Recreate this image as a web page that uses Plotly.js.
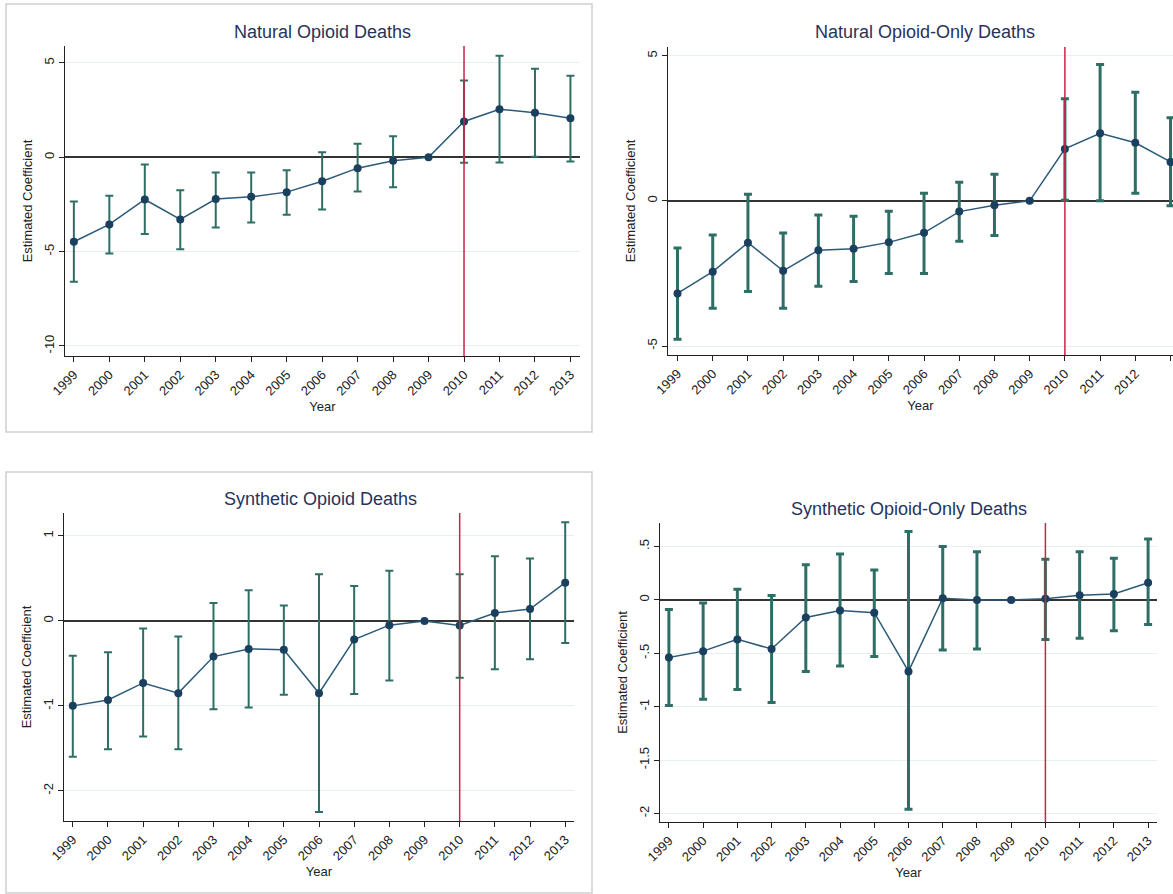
<!DOCTYPE html>
<html>
<head>
<meta charset="utf-8">
<script src="https://cdn.plot.ly/plotly-3.0.1.min.js"></script>
<style>body{margin:0;background:#fff}#chart{width:1173px;height:894px}</style>
</head>
<body>
<div id="chart"></div>
<script>
const years = [1999,2000,2001,2002,2003,2004,2005,2006,2007,2008,2009,2010,2011,2012,2013];

// Natural Opioid Deaths
const natCoef = [-4.48,-3.56,-2.24,-3.3,-2.22,-2.1,-1.85,-1.27,-0.58,-0.19,0,1.89,2.54,2.35,2.06];
const natHi   = [-2.35,-2.04,-0.39,-1.75,-0.81,-0.81,-0.69,0.26,0.71,1.11,0,4.06,5.38,4.68,4.32];
const natLo   = [-6.6,-5.1,-4.07,-4.87,-3.72,-3.46,-3.05,-2.77,-1.82,-1.59,0,-0.3,-0.28,0.02,-0.23];

// Natural Opioid-Only Deaths
const natOnlyCoef = [-3.19,-2.44,-1.44,-2.41,-1.7,-1.65,-1.43,-1.1,-0.37,-0.15,0,1.79,2.33,2.0,1.34];
const natOnlyHi   = [-1.62,-1.18,0.23,-1.11,-0.49,-0.53,-0.36,0.26,0.64,0.92,0,3.52,4.7,3.74,2.86];
const natOnlyLo   = [-4.77,-3.7,-3.12,-3.7,-2.94,-2.78,-2.5,-2.5,-1.39,-1.19,0,0.02,0,0.26,-0.17];

// Synthetic Opioid Deaths
const synCoef = [-1.0,-0.93,-0.73,-0.85,-0.42,-0.33,-0.34,-0.85,-0.22,-0.05,0,-0.055,0.094,0.14,0.45];
const synHi   = [-0.41,-0.37,-0.09,-0.185,0.21,0.36,0.18,0.55,0.41,0.59,0,0.55,0.76,0.735,1.16];
const synLo   = [-1.6,-1.51,-1.36,-1.51,-1.04,-1.02,-0.87,-2.25,-0.86,-0.7,0,-0.67,-0.57,-0.45,-0.26];

// Synthetic Opioid-Only Deaths
const synOnlyCoef = [-0.54,-0.48,-0.37,-0.46,-0.165,-0.1,-0.12,-0.67,0.015,0,0,0.01,0.044,0.056,0.16];
const synOnlyHi   = [-0.09,-0.03,0.10,0.04,0.33,0.43,0.28,0.64,0.50,0.45,0,0.38,0.45,0.39,0.57];
const synOnlyLo   = [-0.99,-0.93,-0.84,-0.96,-0.67,-0.62,-0.53,-1.96,-0.47,-0.46,0,-0.37,-0.36,-0.29,-0.23];

const W = 1173, H = 894;
const px = (v) => v / W;
const py = (v) => 1 - v / H;

// box = [left, right, top, bottom] in page pixels; titleAt = [x, y] centre of title
const panels = [
  { title: 'Natural Opioid Deaths', coef: natCoef, hi: natHi, lo: natLo,
    box: [65, 580, 46, 356], titleAt: [322, 32], yr: [-10.53, 5.89], xr: [1998.75, 2013.27],
    tv: [-10, -5, 0, 5], tt: ['-10', '-5', '0', '5'], ew: 2 },
  { title: 'Natural Opioid-Only Deaths', coef: natOnlyCoef, hi: natOnlyHi, lo: natOnlyLo,
    box: [668, 1173, 47, 355], titleAt: [925, 32], yr: [-5.31, 5.3], xr: [1998.73, 2013.07],
    tv: [-5, 0, 5], tt: ['-5', '0', '5'], ew: 3 },
  { title: 'Synthetic Opioid Deaths', coef: synCoef, hi: synHi, lo: synLo,
    box: [64, 574, 513, 821], titleAt: [320, 499], yr: [-2.355, 1.27], xr: [1998.75, 2013.25],
    tv: [-2, -1, 0, 1], tt: ['-2', '-1', '0', '1'], ew: 2 },
  { title: 'Synthetic Opioid-Only Deaths', coef: synOnlyCoef, hi: synOnlyHi, lo: synOnlyLo,
    box: [660, 1157, 523, 822], titleAt: [909, 509], yr: [-2.08, 0.72], xr: [1998.74, 2013.26],
    tv: [-2, -1.5, -1, -0.5, 0, 0.5], tt: ['-2', '-1.5', '-1', '-.5', '0', '.5'], ew: 3 },
];

const traces = [];
const layout = {
  width: W, height: H,
  margin: { t: 0, r: 0, b: 0, l: 0 },
  paper_bgcolor: '#fff', plot_bgcolor: '#fff',
  font: { family: 'Liberation Sans, Arial, sans-serif', color: '#222', size: 12 },
  showlegend: false,
  shapes: [], annotations: [],
};

panels.forEach((p, i) => {
  const n = i + 1;
  const xa = 'x' + (n === 1 ? '' : n), ya = 'y' + (n === 1 ? '' : n);
  const [l, r, t, b] = p.box;
  traces.push({
    x: years, y: p.coef, xaxis: xa, yaxis: ya,
    type: 'scatter', mode: 'lines',
    line: { color: '#2a5a78', width: 1.5 },
    hoverinfo: 'skip',
    error_y: {
      type: 'data', symmetric: false,
      array: p.hi.map((h, k) => h - p.coef[k]),
      arrayminus: p.coef.map((c, k) => c - p.lo[k]),
      color: '#2e6e64', thickness: p.ew, width: 4,
    },
  });
  traces.push({
    x: years, y: p.coef, xaxis: xa, yaxis: ya,
    type: 'scatter', mode: 'markers',
    marker: { color: '#1b3f5e', size: 8 },
    hoverinfo: 'skip',
  });
  layout['xaxis' + (n === 1 ? '' : n)] = {
    domain: [px(l), px(r)], anchor: ya, range: p.xr,
    tickmode: 'array', tickvals: years, ticktext: years.map(String),
    tickangle: -45, ticks: 'outside', ticklen: 5, tickcolor: '#222',
    showline: true, linecolor: '#222', linewidth: 1, showgrid: false, zeroline: false,
    tickfont: { size: 13, color: '#222' },
    title: { text: 'Year', font: { size: 13, color: '#222' }, standoff: 4 },
  };
  layout['yaxis' + (n === 1 ? '' : n)] = {
    domain: [py(b), py(t)], anchor: xa, range: p.yr,
    tickmode: 'array', tickvals: p.tv, ticktext: p.tt, tickangle: -90,
    ticks: 'outside', ticklen: 5, tickcolor: '#222',
    showline: true, linecolor: '#222', linewidth: 1,
    showgrid: true, gridcolor: '#e6f0f1', gridwidth: 1,
    zeroline: true, zerolinecolor: '#333', zerolinewidth: 1.5,
    tickfont: { size: 13, color: '#222' },
    title: { text: 'Estimated Coefficient', font: { size: 13, color: '#222' }, standoff: 6 },
  };
  layout.shapes.push({
    type: 'line', xref: xa, yref: ya + ' domain', x0: 2010, x1: 2010, y0: 0, y1: 1,
    line: { color: '#d1204a', width: 1.5 },
  });
  layout.annotations.push({
    text: p.title, xref: 'paper', yref: 'paper',
    x: px(p.titleAt[0]), y: py(p.titleAt[1]), xanchor: 'center', yanchor: 'middle',
    showarrow: false, font: { size: 18, color: '#26335c' },
  });
});

// gray frames around the left-hand panels
[[6, 592, 4, 432], [6, 592, 472, 893]].forEach(([x0, x1, y0, y1]) => {
  layout.shapes.push({
    type: 'rect', xref: 'paper', yref: 'paper',
    x0: px(x0), x1: px(x1), y0: py(y1), y1: py(y0),
    line: { color: '#cfcfcf', width: 1.5 },
  });
});

Plotly.newPlot('chart', traces, layout, { displayModeBar: false, staticPlot: true });
</script>
</body>
</html>
